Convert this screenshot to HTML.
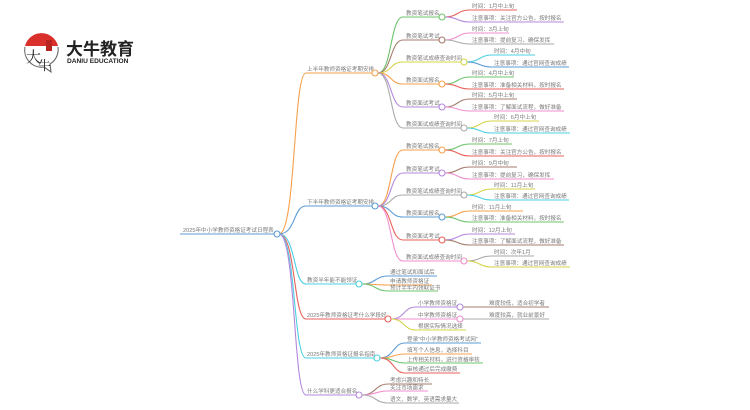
<!DOCTYPE html>
<html><head><meta charset="utf-8"><style>
html,body{margin:0;padding:0;background:#fff;width:750px;height:410px;overflow:hidden}
svg{display:block}
text{font-family:"Liberation Sans","Noto Sans CJK SC",sans-serif;font-size:5.6px;fill:#7a7a7a}
path{fill:none;stroke-width:1.1}
circle{fill:#fff;stroke-width:1.1}
</style></head><body>
<svg width="750" height="410" viewBox="0 0 750 410" xmlns="http://www.w3.org/2000/svg">
<!-- logo -->
<path d="M25 46 A17 17 0 0 1 58 46 Z" style="fill:#d9302c;stroke:none"/>
<path d="M25 47 A17 17 0 0 0 44 67 L51 72 L50 64 A17 17 0 0 0 58 47" stroke="#666" stroke-width="1"/>
<text x="26" y="62" style="font-size:15px;fill:#222;font-family:'Noto Serif CJK SC',serif">大</text>
<text x="38" y="70" style="font-size:13px;fill:#222;font-family:'Noto Serif CJK SC',serif">牛</text>
<rect x="46" y="40" width="6" height="11" style="fill:#b82420"/>
<text x="66" y="55" style="font-size:17px;font-weight:bold;fill:#222">大牛教育</text>
<text x="67" y="63" style="font-size:6.6px;fill:#222;font-weight:bold">DANIU EDUCATION</text>

<!-- root -->
<path d="M180 234 L277 234" stroke="#5b9bd5"/>
<text x="183" y="232">2025年中小学教师资格证考试日程表</text>

<!-- root to level1 -->
<path d="M279 234 C296 234,293 73,306 73 L375 73" stroke="#f7a04b"/>
<path d="M279 234 C296 234,293 206,306 206 L375 206" stroke="#5b9bd5"/>
<path d="M279 234 C296 234,293 284,306 284 L359 284" stroke="#4dd0e1"/>
<path d="M279 234 C296 234,293 319,306 319 L388 319" stroke="#e8615a"/>
<path d="M279 234 C296 234,293 358,306 358 L377 358" stroke="#4dd0e1"/>
<path d="M279 234 C296 234,293 395,306 395 L359 395" stroke="#b388dd"/>
<text x="307" y="71">上半年教师资格证考期安排</text>
<text x="307" y="204">下半年教师资格证考期安排</text>
<text x="307" y="282">教资半年能不能领证</text>
<text x="307" y="317">2025年教师资格证考什么学段好</text>
<text x="307" y="356">2025年教师资格证报名指南</text>
<text x="307" y="393">什么学科更适合报名</text>

<!-- group 1 level2 -->
<path d="M378 73 C392 73,390 17,403 17 L442 17" stroke="#6cc46c"/>
<path d="M378 73 C392 73,390 40,403 40 L442 40" stroke="#a67c6d"/>
<path d="M378 73 C392 73,390 62,403 62 L464 62" stroke="#d4d44a"/>
<path d="M378 73 C392 73,390 84,403 84 L442 84" stroke="#f7a04b"/>
<path d="M378 73 C392 73,390 107,403 107 L442 107" stroke="#b388dd"/>
<path d="M378 73 C392 73,390 128,403 128 L464 128" stroke="#aaa"/>
<text x="406" y="15">教资笔试报名</text>
<text x="406" y="38">教资笔试考试</text>
<text x="406" y="60">教资笔试成绩查询时间</text>
<text x="406" y="82">教资面试报名</text>
<text x="406" y="105">教资面试考试</text>
<text x="406" y="126">教资面试成绩查询时间</text>
<path d="M445 17 C458 17,457 10,470 10 L517 10" stroke="#e8615a"/>
<path d="M445 17 C458 17,457 22,470 22 L564 22" stroke="#b388dd"/>
<text x="472" y="8">时间：1月中上旬</text><text x="472" y="20">注意事项：关注官方公告，按时报名</text>
<path d="M445 40 C458 40,457 33,470 33 L509 33" stroke="#f08fcf"/>
<path d="M445 40 C458 40,457 44,470 44 L554 44" stroke="#aaa"/>
<text x="472" y="31">时间：3月上旬</text><text x="472" y="42">注意事项：提前复习，确保发挥</text>
<path d="M467 62 C480 62,479 55,492 55 L535 55" stroke="#4dd0e1"/>
<path d="M467 62 C480 62,479 67,492 67 L569 67" stroke="#5b9bd5"/>
<text x="494" y="53">时间：4月中旬</text><text x="494" y="65">注意事项：通过官网查询成绩</text>
<path d="M445 84 C458 84,457 77,470 77 L514 77" stroke="#6cc46c"/>
<path d="M445 84 C458 84,457 89,470 89 L564 89" stroke="#e8615a"/>
<text x="472" y="75">时间：4月中上旬</text><text x="472" y="87">注意事项：准备相关材料，按时报名</text>
<path d="M445 107 C458 107,457 99,470 99 L517 99" stroke="#a67c6d"/>
<path d="M445 107 C458 107,457 111,470 111 L564 111" stroke="#f08fcf"/>
<text x="472" y="97">时间：5月中上旬</text><text x="472" y="109">注意事项：了解面试流程，做好准备</text>
<path d="M467 128 C480 128,479 121,492 121 L539 121" stroke="#d4d44a"/>
<path d="M467 128 C480 128,479 133,492 133 L570 133" stroke="#4dd0e1"/>
<text x="494" y="119">时间：6月中上旬</text><text x="494" y="131">注意事项：通过官网查询成绩</text>

<!-- group 2 level2 -->
<path d="M378 206 C392 206,390 150,403 150 L442 150" stroke="#f7a04b"/>
<path d="M378 206 C392 206,390 173,403 173 L442 173" stroke="#b388dd"/>
<path d="M378 206 C392 206,390 195,403 195 L464 195" stroke="#aaa"/>
<path d="M378 206 C392 206,390 217,403 217 L442 217" stroke="#5b9bd5"/>
<path d="M378 206 C392 206,390 240,403 240 L442 240" stroke="#e8615a"/>
<path d="M378 206 C392 206,390 261,403 261 L464 261" stroke="#f08fcf"/>
<text x="406" y="148">教资笔试报名</text>
<text x="406" y="171">教资笔试考试</text>
<text x="406" y="193">教资笔试成绩查询时间</text>
<text x="406" y="215">教资面试报名</text>
<text x="406" y="238">教资面试考试</text>
<text x="406" y="259">教资面试成绩查询时间</text>
<path d="M445 150 C458 150,457 144,470 144 L512 144" stroke="#6cc46c"/>
<path d="M445 150 C458 150,457 156,470 156 L564 156" stroke="#e8615a"/>
<text x="472" y="142">时间：7月上旬</text><text x="472" y="154">注意事项：关注官方公告，按时报名</text>
<path d="M445 173 C458 173,457 167,470 167 L517 167" stroke="#a67c6d"/>
<path d="M445 173 C458 173,457 179,470 179 L554 179" stroke="#f08fcf"/>
<text x="472" y="165">时间：9月中旬</text><text x="472" y="177">注意事项：提前复习，确保发挥</text>
<path d="M467 195 C480 195,479 189,492 189 L535 189" stroke="#d4d44a"/>
<path d="M467 195 C480 195,479 200,492 200 L569 200" stroke="#4dd0e1"/>
<text x="494" y="187">时间：11月上旬</text><text x="494" y="198">注意事项：通过官网查询成绩</text>
<path d="M445 217 C458 217,457 211,470 211 L523 211" stroke="#f7a04b"/>
<path d="M445 217 C458 217,457 222,470 222 L564 222" stroke="#6cc46c"/>
<text x="472" y="209">时间：11月上旬</text><text x="472" y="220">注意事项：准备相关材料，按时报名</text>
<path d="M445 240 C458 240,457 234,470 234 L515 234" stroke="#b388dd"/>
<path d="M445 240 C458 240,457 245,470 245 L564 245" stroke="#a67c6d"/>
<text x="472" y="232">时间：12月上旬</text><text x="472" y="243">注意事项：了解面试流程，做好准备</text>
<path d="M467 261 C480 261,479 256,492 256 L534 256" stroke="#aaa"/>
<path d="M467 261 C480 261,479 267,492 267 L570 267" stroke="#d4d44a"/>
<text x="494" y="254">时间：次年1月</text><text x="494" y="265">注意事项：通过官网查询成绩</text>

<!-- group 3 -->
<path d="M362 284 C376 284,375 276,388 276 L437 276" stroke="#5b9bd5"/>
<path d="M362 284 C376 284,375 285,388 285 L432 285" stroke="#f7a04b"/>
<path d="M362 284 C376 284,375 291,388 291 L438 291" stroke="#6cc46c"/>
<text x="390" y="274">通过笔试和面试后</text><text x="390" y="283">申请教师资格证</text><text x="390" y="289.5">预计半年内领取证书</text>

<!-- group 4 -->
<path d="M391 319 C405 319,403 307,416 307 L460 307" stroke="#b388dd"/>
<path d="M391 319 C405 319,403 319,416 319 L460 319" stroke="#f08fcf"/>
<path d="M391 319 C405 319,403 330,416 330 L466 330" stroke="#d4d44a"/>
<text x="418" y="305">小学教师资格证</text><text x="418" y="317">中学教师资格证</text><text x="418" y="328">根据实际情况选择</text>
<path d="M463 307 C474 307,476 307,483 307 L549 307" stroke="#a67c6d"/>
<path d="M463 319 C474 319,476 319,483 319 L549 319" stroke="#aaa"/>
<text x="489" y="305">难度较低，适合初学者</text><text x="489" y="317">难度较高，就业前景好</text>

<!-- group 5 -->
<path d="M380 358 C394 358,393 343,405 343 L481 343" stroke="#5b9bd5"/>
<path d="M380 358 C394 358,393 354,405 354 L472 354" stroke="#f7a04b"/>
<path d="M380 358 C394 358,393 363,405 363 L483 363" stroke="#6cc46c"/>
<path d="M380 358 C394 358,393 373,405 373 L460 373" stroke="#e8615a"/>
<text x="407" y="341">登录“中小学教师资格考试网”</text><text x="407" y="352">填写个人信息，选择科目</text><text x="407" y="361.5">上传相关材料，进行资格审核</text><text x="407" y="371">审核通过后完成缴费</text>

<!-- group 6 -->
<path d="M362 395 C376 395,375 384,388 384 L432 384" stroke="#a67c6d"/>
<path d="M362 395 C376 395,375 391,388 391 L428 391" stroke="#f08fcf"/>
<path d="M362 395 C376 395,375 403,388 403 L459 403" stroke="#aaa"/>
<text x="390" y="382">考虑兴趣和特长</text><text x="390" y="389.5">关注市场需求</text><text x="390" y="401">语文、数学、英语需求量大</text>

<!-- circles -->
<circle cx="277" cy="234" r="3" stroke="#5b9bd5"/>
<circle cx="375" cy="73" r="3" stroke="#f7a04b"/>
<circle cx="375" cy="206" r="3" stroke="#5b9bd5"/>
<circle cx="359" cy="284" r="3" stroke="#4dd0e1"/>
<circle cx="388" cy="319" r="3" stroke="#e8615a"/>
<circle cx="377" cy="358" r="3" stroke="#4dd0e1"/>
<circle cx="359" cy="395" r="3" stroke="#b388dd"/>
<circle cx="442" cy="17" r="3" stroke="#6cc46c"/>
<circle cx="442" cy="40" r="3" stroke="#a67c6d"/>
<circle cx="464" cy="62" r="3" stroke="#d4d44a"/>
<circle cx="442" cy="84" r="3" stroke="#f7a04b"/>
<circle cx="442" cy="107" r="3" stroke="#b388dd"/>
<circle cx="464" cy="128" r="3" stroke="#aaa"/>
<circle cx="442" cy="150" r="3" stroke="#f7a04b"/>
<circle cx="442" cy="173" r="3" stroke="#b388dd"/>
<circle cx="464" cy="195" r="3" stroke="#aaa"/>
<circle cx="442" cy="217" r="3" stroke="#5b9bd5"/>
<circle cx="442" cy="240" r="3" stroke="#e8615a"/>
<circle cx="464" cy="261" r="3" stroke="#f08fcf"/>
<circle cx="460" cy="307" r="3" stroke="#b388dd"/>
<circle cx="460" cy="319" r="3" stroke="#f08fcf"/>
</svg>
</body></html>
